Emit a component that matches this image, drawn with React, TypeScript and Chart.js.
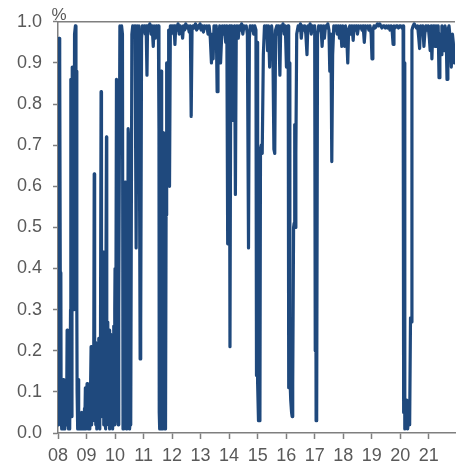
import { useEffect, useRef } from "react";
import { Chart, registerables } from "chart.js";

Chart.register(...registerables);

const span2008to2010: [number, number][] = [
  [2008.0, 0.02], [2008.02, 0.95], [2008.04, 0.96], [2008.06, 0.9], [2008.08, 0.39],
  [2008.1, 0.38], [2008.11, 0.05], [2008.12, 0.02], [2008.13, 0.11], [2008.14, 0.01],
  [2008.16, 0.08], [2008.17, 0.01], [2008.19, 0.13], [2008.2, 0.03], [2008.21, 0.02],
  [2008.23, 0.07], [2008.24, 0.01], [2008.26, 0.05], [2008.27, 0.02], [2008.29, 0.1],
  [2008.3, 0.02], [2008.32, 0.25], [2008.33, 0.06], [2008.35, 0.24], [2008.36, 0.03],
  [2008.37, 0.01], [2008.39, 0.12], [2008.4, 0.2], [2008.41, 0.03], [2008.42, 0.01],
  [2008.44, 0.3], [2008.45, 0.86], [2008.47, 0.04], [2008.49, 0.6], [2008.5, 0.89],
  [2008.53, 0.87], [2008.56, 0.3], [2008.58, 0.97], [2008.61, 0.99], [2008.63, 0.63],
  [2008.65, 0.88], [2008.66, 0.3], [2008.67, 0.1], [2008.68, 0.02], [2008.69, 0.01],
  [2008.7, 0.08], [2008.71, 0.13], [2008.72, 0.02], [2008.73, 0.01], [2008.75, 0.04],
  [2008.76, 0.01], [2008.78, 0.03], [2008.79, 0.01], [2008.81, 0.02], [2008.82, 0.05],
  [2008.84, 0.01], [2008.85, 0.04], [2008.87, 0.02], [2008.88, 0.01], [2008.9, 0.03],
  [2008.91, 0.01], [2008.93, 0.06], [2008.94, 0.02], [2008.96, 0.11], [2008.97, 0.03],
  [2008.98, 0.01], [2009.0, 0.09], [2009.02, 0.12], [2009.03, 0.02], [2009.05, 0.05],
  [2009.06, 0.01], [2009.08, 0.06], [2009.09, 0.02], [2009.11, 0.04], [2009.12, 0.01],
  [2009.14, 0.1], [2009.16, 0.21], [2009.17, 0.03], [2009.18, 0.12], [2009.19, 0.02],
  [2009.21, 0.15], [2009.22, 0.2], [2009.23, 0.04], [2009.25, 0.1], [2009.27, 0.63],
  [2009.28, 0.06], [2009.29, 0.03], [2009.31, 0.15], [2009.32, 0.22], [2009.33, 0.02],
  [2009.35, 0.08], [2009.36, 0.01], [2009.37, 0.12], [2009.39, 0.03], [2009.4, 0.18],
  [2009.42, 0.02], [2009.43, 0.23], [2009.44, 0.05], [2009.46, 0.01], [2009.47, 0.15],
  [2009.49, 0.23], [2009.51, 0.83], [2009.52, 0.1], [2009.53, 0.04], [2009.55, 0.18],
  [2009.56, 0.25], [2009.57, 0.06], [2009.59, 0.44], [2009.6, 0.12], [2009.61, 0.02],
  [2009.63, 0.1], [2009.64, 0.18], [2009.65, 0.03], [2009.66, 0.01], [2009.68, 0.2],
  [2009.7, 0.72], [2009.71, 0.15], [2009.72, 0.03], [2009.74, 0.2], [2009.75, 0.27],
  [2009.76, 0.05], [2009.77, 0.02], [2009.79, 0.15], [2009.8, 0.25], [2009.81, 0.04],
  [2009.82, 0.01], [2009.84, 0.18], [2009.85, 0.24], [2009.86, 0.06], [2009.87, 0.03],
  [2009.89, 0.15], [2009.9, 0.23], [2009.91, 0.05], [2009.92, 0.01], [2009.94, 0.2],
  [2009.95, 0.26], [2009.96, 0.07], [2009.97, 0.02], [2009.99, 0.3], [2010.0, 0.4],
  [2010.02, 0.03], [2010.05, 0.86], [2010.07, 0.85], [2010.09, 0.04], [2010.11, 0.02],
  [2010.13, 0.3], [2010.17, 0.99], [2010.2, 0.68], [2010.23, 0.99], [2010.26, 0.97],
  [2010.28, 0.01], [2010.3, 0.03], [2010.32, 0.02], [2010.35, 0.61], [2010.37, 0.02],
  [2010.39, 0.01], [2010.41, 0.05], [2010.43, 0.02], [2010.46, 0.74], [2010.49, 0.7],
  [2010.51, 0.01], [2010.53, 0.03], [2010.55, 0.02], [2010.59, 0.97], [2010.62, 0.99],
  [2010.66, 0.98], [2010.7, 0.99], [2010.74, 0.45], [2010.77, 0.99], [2010.81, 0.98],
  [2010.84, 0.99], [2010.88, 0.18], [2010.9, 0.26], [2010.93, 0.96], [2010.96, 0.99],
];

const span2011to2014: [number, number][] = [
  [2011.0, 0.98], [2011.03, 0.99], [2011.06, 0.97], [2011.09, 0.99], [2011.12, 0.87],
  [2011.14, 0.99], [2011.18, 0.98], [2011.22, 0.995], [2011.26, 0.97], [2011.3, 0.99],
  [2011.34, 0.94], [2011.37, 0.99], [2011.41, 0.96], [2011.45, 0.99], [2011.49, 0.98],
  [2011.52, 0.99], [2011.54, 0.74], [2011.55, 0.05], [2011.56, 0.01], [2011.57, 0.4],
  [2011.58, 0.02], [2011.59, 0.01], [2011.6, 0.6], [2011.61, 0.03], [2011.62, 0.88],
  [2011.63, 0.4], [2011.64, 0.01], [2011.66, 0.02], [2011.67, 0.3], [2011.68, 0.01],
  [2011.7, 0.73], [2011.71, 0.1], [2011.72, 0.02], [2011.73, 0.01], [2011.75, 0.02],
  [2011.77, 0.01], [2011.79, 0.53], [2011.81, 0.9], [2011.83, 0.62], [2011.86, 0.7],
  [2011.88, 0.98], [2011.91, 0.6], [2011.94, 0.99], [2011.97, 0.97],
  [2012.0, 0.99], [2012.04, 0.98], [2012.07, 0.99], [2012.1, 0.945], [2012.13, 0.99],
  [2012.17, 0.98], [2012.21, 0.995], [2012.25, 0.97], [2012.29, 0.99], [2012.33, 0.985],
  [2012.37, 0.96], [2012.4, 0.99], [2012.44, 0.98], [2012.48, 0.995], [2012.52, 0.985],
  [2012.56, 0.99], [2012.6, 0.975], [2012.64, 0.99], [2012.67, 0.77], [2012.7, 0.98],
  [2012.74, 0.99], [2012.78, 0.985], [2012.82, 0.995], [2012.86, 0.98], [2012.9, 0.99],
  [2012.94, 0.985], [2012.98, 0.995], [2013.02, 0.98], [2013.06, 0.99], [2013.1, 0.975],
  [2013.14, 0.99], [2013.18, 0.985], [2013.22, 0.99], [2013.26, 0.97], [2013.3, 0.99],
  [2013.34, 0.96], [2013.38, 0.9], [2013.41, 0.97], [2013.44, 0.91], [2013.47, 0.99],
  [2013.51, 0.97], [2013.55, 0.99], [2013.58, 0.83], [2013.61, 0.98], [2013.64, 0.96],
  [2013.67, 0.99], [2013.7, 0.9], [2013.73, 0.95], [2013.76, 0.99], [2013.8, 0.97],
  [2013.84, 0.99], [2013.88, 0.95], [2013.92, 0.99], [2013.95, 0.46], [2013.98, 0.93],
  [2014.01, 0.99], [2014.03, 0.21], [2014.06, 0.98], [2014.09, 0.99], [2014.12, 0.76],
  [2014.15, 0.98], [2014.19, 0.99], [2014.22, 0.58], [2014.25, 0.97], [2014.28, 0.99],
  [2014.32, 0.96], [2014.36, 0.99], [2014.4, 0.98], [2014.44, 0.995], [2014.48, 0.97],
  [2014.52, 0.99], [2014.56, 0.985], [2014.6, 0.99], [2014.64, 0.97], [2014.68, 0.45],
  [2014.71, 0.96], [2014.74, 0.99], [2014.78, 0.98], [2014.82, 0.99], [2014.86, 0.97],
  [2014.9, 0.99], [2014.94, 0.98], [2014.96, 0.14], [2014.98, 0.95],
];

const span2015to2017: [number, number][] = [
  [2015.0, 0.12], [2015.03, 0.03], [2015.06, 0.04], [2015.08, 0.03], [2015.1, 0.69],
  [2015.13, 0.7], [2015.16, 0.68], [2015.2, 0.92], [2015.24, 0.99], [2015.28, 0.97],
  [2015.32, 0.99], [2015.35, 0.93], [2015.38, 0.99], [2015.42, 0.89], [2015.45, 0.98],
  [2015.49, 0.99], [2015.53, 0.96], [2015.57, 0.69], [2015.6, 0.68], [2015.63, 0.98],
  [2015.67, 0.99], [2015.71, 0.97], [2015.74, 0.99], [2015.78, 0.87], [2015.81, 0.99],
  [2015.85, 0.98], [2015.89, 0.995], [2015.93, 0.97], [2015.97, 0.99], [2016.01, 0.89],
  [2016.04, 0.98], [2016.07, 0.99], [2016.09, 0.11], [2016.11, 0.9], [2016.13, 0.14],
  [2016.16, 0.08], [2016.19, 0.05], [2016.21, 0.04], [2016.23, 0.12], [2016.26, 0.5],
  [2016.28, 0.51], [2016.3, 0.75], [2016.32, 0.5], [2016.34, 0.68], [2016.37, 0.97],
  [2016.42, 0.99], [2016.46, 0.98], [2016.5, 0.995], [2016.53, 0.96], [2016.57, 0.99],
  [2016.61, 0.98], [2016.65, 0.99], [2016.69, 0.97], [2016.73, 0.92], [2016.76, 0.99],
  [2016.8, 0.98], [2016.84, 0.995], [2016.88, 0.97], [2016.92, 0.99], [2016.96, 0.98],
  [2017.0, 0.99], [2017.02, 0.2], [2017.03, 0.85], [2017.05, 0.03], [2017.07, 0.05],
  [2017.1, 0.97], [2017.14, 0.99], [2017.18, 0.98], [2017.22, 0.99], [2017.26, 0.94],
  [2017.3, 0.99], [2017.34, 0.96], [2017.38, 0.99], [2017.42, 0.985], [2017.46, 0.995],
  [2017.5, 0.98], [2017.53, 0.88], [2017.57, 0.97], [2017.6, 0.66], [2017.63, 0.92],
  [2017.67, 0.99], [2017.71, 0.98], [2017.75, 0.99], [2017.79, 0.97], [2017.83, 0.99],
  [2017.87, 0.96], [2017.91, 0.99], [2017.95, 0.94], [2017.98, 0.99],
];

const span2018to2021: [number, number][] = [
  [2018.02, 0.97], [2018.05, 0.94], [2018.08, 0.99], [2018.12, 0.97], [2018.16, 0.9],
  [2018.19, 0.98], [2018.23, 0.99], [2018.27, 0.97], [2018.31, 0.99], [2018.35, 0.955],
  [2018.38, 0.99], [2018.42, 0.98], [2018.46, 0.99], [2018.5, 0.97], [2018.54, 0.99],
  [2018.58, 0.985], [2018.62, 0.99], [2018.66, 0.98], [2018.7, 0.99], [2018.74, 0.95],
  [2018.78, 0.99], [2018.82, 0.985], [2018.86, 0.99], [2018.9, 0.98], [2018.94, 0.99],
  [2018.98, 0.97], [2019.01, 0.91], [2019.04, 0.98], [2019.08, 0.99], [2019.12, 0.985],
  [2019.16, 0.99], [2019.2, 0.995], [2019.24, 0.99], [2019.28, 0.995], [2019.32, 0.99],
  [2019.36, 0.985], [2019.4, 0.99], [2019.44, 0.99], [2019.48, 0.985], [2019.52, 0.99],
  [2019.56, 0.985], [2019.6, 0.99], [2019.64, 0.98], [2019.68, 0.99], [2019.72, 0.975],
  [2019.75, 0.945], [2019.78, 0.99], [2019.82, 0.985], [2019.86, 0.99], [2019.9, 0.99],
  [2019.94, 0.985], [2019.98, 0.99], [2020.02, 0.99], [2020.06, 0.985], [2020.1, 0.99],
  [2020.12, 0.05], [2020.14, 0.9], [2020.16, 0.01], [2020.18, 0.06], [2020.2, 0.02],
  [2020.23, 0.08], [2020.26, 0.01], [2020.3, 0.05], [2020.33, 0.02], [2020.36, 0.28],
  [2020.38, 0.27], [2020.41, 0.98], [2020.45, 0.99], [2020.49, 0.995], [2020.53, 0.99],
  [2020.57, 0.985], [2020.61, 0.99], [2020.65, 0.96], [2020.68, 0.935], [2020.71, 0.99],
  [2020.75, 0.98], [2020.79, 0.99], [2020.83, 0.94], [2020.86, 0.97], [2020.9, 0.99],
  [2020.94, 0.98], [2020.98, 0.99], [2021.02, 0.96], [2021.05, 0.93], [2021.08, 0.99],
  [2021.11, 0.91], [2021.14, 0.98], [2021.18, 0.99], [2021.22, 0.94], [2021.25, 0.99],
  [2021.29, 0.97], [2021.33, 0.99], [2021.36, 0.864], [2021.39, 0.97], [2021.43, 0.92],
  [2021.46, 0.99], [2021.5, 0.95], [2021.53, 0.93], [2021.57, 0.99], [2021.61, 0.97],
  [2021.64, 0.86], [2021.67, 0.98], [2021.71, 0.99], [2021.75, 0.96], [2021.79, 0.89],
  [2021.83, 0.97], [2021.86, 0.95], [2021.9, 0.9],
];

const yearTicks = [2008, 2009, 2010, 2011, 2012, 2013, 2014, 2015, 2016, 2017, 2018, 2019, 2020, 2021];
const ratioTicks = [0, 0.1, 0.2, 0.3, 0.4, 0.5, 0.6, 0.7, 0.8, 0.9, 1.0];
const unitLabel = "%";

const LINE = "#1f497d";
const AXIS = "#7f7f7f";
const TEXT = "#595959";
const FONT = "'Liberation Sans', Arial, sans-serif";

export default function App() {
  const ref = useRef<HTMLCanvasElement | null>(null);

  useEffect(() => {
    if (!ref.current) return;
    const points = [...span2008to2010, ...span2011to2014, ...span2015to2017, ...span2018to2021].map(
      ([x, y]) => ({ x, y })
    );

    const framePlugin = {
      id: "frame",
      beforeDatasetsDraw(chart: any) {
        const { ctx, chartArea } = chart;
        ctx.save();
        ctx.strokeStyle = AXIS;
        ctx.lineWidth = 1.5;
        ctx.beginPath();
        ctx.moveTo(chartArea.left, chartArea.top);
        ctx.lineTo(chartArea.right, chartArea.top);
        ctx.stroke();
        ctx.restore();
      },
      afterDraw(chart: any) {
        const { ctx, chartArea } = chart;
        ctx.save();
        ctx.fillStyle = TEXT;
        ctx.font = `17px ${FONT}`;
        ctx.textAlign = "center";
        ctx.textBaseline = "alphabetic";
        ctx.fillText(unitLabel, chartArea.left + 1, chartArea.top - 2);
        ctx.restore();
      },
    };

    const chart = new Chart(ref.current, {
      type: "line",
      data: {
        datasets: [
          {
            data: points,
            borderColor: LINE,
            borderWidth: 3.2,
            borderJoinStyle: "round",
            borderCapStyle: "round",
            pointRadius: 0,
            tension: 0,
            fill: false,
          },
        ],
      },
      options: {
        responsive: false,
        animation: false,
        events: [],
        layout: { padding: { left: 0, top: 21, right: 4, bottom: 0 } },
        plugins: { legend: { display: false }, tooltip: { enabled: false } },
        scales: {
          x: {
            type: "linear",
            min: 2008,
            max: 2021.92,
            afterBuildTicks: (s: any) => {
              s.ticks = yearTicks.map((v) => ({ value: v }));
            },
            afterFit: (s: any) => {
              s.height = 33;
            },
            ticks: {
              color: TEXT,
              font: { family: FONT, size: 18 },
              padding: 6,
              maxRotation: 0,
              autoSkip: false,
              callback: (v: any) => String(Math.round(Number(v))).slice(2),
            },
            grid: {
              display: true,
              drawOnChartArea: false,
              drawTicks: true,
              tickLength: 6,
              tickColor: AXIS,
              tickWidth: 1.5,
            },
            border: { display: true, color: AXIS, width: 1.5 },
          },
          y: {
            type: "linear",
            min: 0,
            max: 1,
            afterBuildTicks: (s: any) => {
              s.ticks = ratioTicks.map((v) => ({ value: v }));
            },
            afterFit: (s: any) => {
              s.width = 58;
            },
            ticks: {
              color: TEXT,
              font: { family: FONT, size: 18 },
              padding: 11,
              callback: (v: any) => Number(v).toFixed(1),
            },
            grid: {
              display: true,
              drawOnChartArea: false,
              drawTicks: true,
              tickLength: 5,
              tickColor: AXIS,
              tickWidth: 1.5,
            },
            border: { display: true, color: AXIS, width: 1.5 },
          },
        },
      },
      plugins: [framePlugin],
    });

    return () => chart.destroy();
  }, []);

  return (
    <div style={{ position: "absolute", left: 0, top: 0, width: 459, height: 466, background: "#fff" }}>
      <canvas ref={ref} width={459} height={466} style={{ display: "block" }} />
    </div>
  );
}
